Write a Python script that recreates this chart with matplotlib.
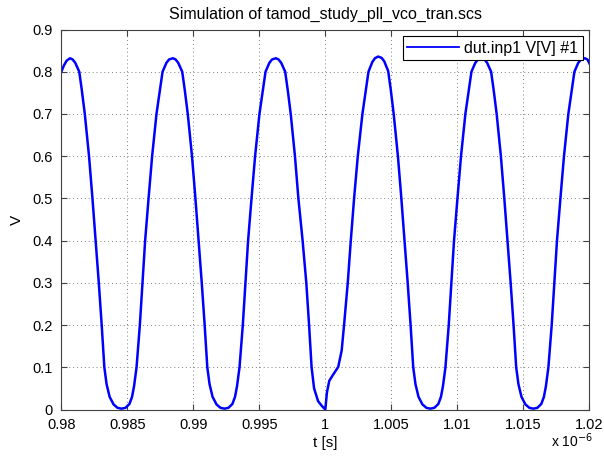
import matplotlib
matplotlib.use("Agg")
import matplotlib.pyplot as plt
import numpy as np

plt.rcParams['font.family'] = ['Liberation Sans', 'DejaVu Sans']

# === Datos (t en microsegundos) ===
t_us = [
    0.98000, 0.98020, 0.98040, 0.98066,
    # periodo 1
    0.98086, 0.98106, 0.98136, 0.98156, 0.98178, 0.98210, 0.98236, 0.98260,
    0.98284, 0.98306, 0.98326, 0.98343, 0.98366, 0.98396, 0.98426, 0.98456,
    0.98486, 0.98516, 0.98536, 0.98551, 0.98570, 0.98595, 0.98615, 0.98635,
    0.98661, 0.98688, 0.98721, 0.98767, 0.98796, 0.98816, 0.98846,
    # periodo 2
    0.98866, 0.98886, 0.98916, 0.98936, 0.98958, 0.98990, 0.99016, 0.99040,
    0.99064, 0.99086, 0.99106, 0.99123, 0.99146, 0.99176, 0.99206, 0.99236,
    0.99266, 0.99296, 0.99316, 0.99331, 0.99350, 0.99375, 0.99395, 0.99415,
    0.99441, 0.99468, 0.99501, 0.99547, 0.99576, 0.99596, 0.99626,
    # periodo 3 (glitch en t = 1)
    0.99646, 0.99666, 0.99696, 0.99716, 0.99738, 0.99770, 0.99796, 0.99828,
    0.99856, 0.99877, 0.99896, 0.99915, 0.99945, 0.99975, 1.00000,
    1.00012, 1.00030, 1.00060, 1.00098, 1.00124, 1.00142, 1.00170, 1.00193,
    1.00218, 1.00246, 1.00281, 1.00327, 1.00356, 1.00376, 1.00400,
    # periodo 4
    1.00426, 1.00446, 1.00476, 1.00496, 1.00518, 1.00550, 1.00576, 1.00600,
    1.00624, 1.00646, 1.00666, 1.00683, 1.00706, 1.00736, 1.00766, 1.00796,
    1.00826, 1.00856, 1.00876, 1.00891, 1.00910, 1.00935, 1.00955, 1.00975,
    1.01001, 1.01028, 1.01061, 1.01107, 1.01136, 1.01156, 1.01186,
    # periodo 5
    1.01206, 1.01226, 1.01256, 1.01276, 1.01298, 1.01330, 1.01356, 1.01380,
    1.01404, 1.01426, 1.01446, 1.01463, 1.01486, 1.01516, 1.01546, 1.01576,
    1.01606, 1.01636, 1.01656, 1.01671, 1.01690, 1.01715, 1.01735, 1.01755,
    1.01781, 1.01808, 1.01841, 1.01887, 1.01916, 1.01936, 1.01966,
    1.01986, 1.02000,
]
v = [
    0.800, 0.815, 0.826, 0.832,
    0.829, 0.821, 0.800, 0.755, 0.700, 0.600, 0.500, 0.400,
    0.300, 0.200, 0.100, 0.060, 0.030, 0.012, 0.004, 0.002,
    0.004, 0.013, 0.030, 0.055, 0.100, 0.200, 0.300, 0.400,
    0.500, 0.600, 0.700, 0.800, 0.821, 0.829, 0.832,
    0.829, 0.821, 0.800, 0.755, 0.700, 0.600, 0.500, 0.400,
    0.300, 0.200, 0.100, 0.060, 0.030, 0.012, 0.004, 0.002,
    0.004, 0.013, 0.030, 0.055, 0.100, 0.200, 0.300, 0.400,
    0.500, 0.600, 0.700, 0.800, 0.821, 0.829, 0.832,
    0.829, 0.821, 0.800, 0.755, 0.700, 0.600, 0.500, 0.400,
    0.300, 0.200, 0.100, 0.050, 0.020, 0.008, 0.000,
    0.040, 0.068, 0.083, 0.101, 0.140, 0.200, 0.300, 0.400,
    0.500, 0.600, 0.700, 0.800, 0.823, 0.832, 0.836,
    0.833, 0.825, 0.802, 0.757, 0.700, 0.600, 0.500, 0.400,
    0.300, 0.200, 0.100, 0.060, 0.030, 0.012, 0.004, 0.002,
    0.004, 0.013, 0.030, 0.055, 0.100, 0.200, 0.300, 0.400,
    0.500, 0.600, 0.700, 0.800, 0.821, 0.829, 0.832,
    0.829, 0.821, 0.800, 0.755, 0.700, 0.600, 0.500, 0.400,
    0.300, 0.200, 0.100, 0.060, 0.030, 0.012, 0.004, 0.002,
    0.004, 0.013, 0.030, 0.055, 0.100, 0.200, 0.300, 0.400,
    0.500, 0.600, 0.700, 0.800, 0.821, 0.829, 0.832,
    0.829, 0.820,
]

xticks = [0.98, 0.985, 0.99, 0.995, 1.0, 1.005, 1.01, 1.015, 1.02]
xtick_labels = ['0.98', '0.985', '0.99', '0.995', '1', '1.005', '1.01', '1.015', '1.02']
yticks = [0, 0.1, 0.2, 0.3, 0.4, 0.5, 0.6, 0.7, 0.8, 0.9]
ytick_labels = ['0', '0.1', '0.2', '0.3', '0.4', '0.5', '0.6', '0.7', '0.8', '0.9']

# === Grafica ===
fig = plt.figure(figsize=(6.04, 4.57), dpi=100)
ax = fig.add_axes([0.1015, 0.1039, 0.8742, 0.8315])

ax.plot(t_us, v, color='#0000ff', linewidth=1.8, label='dut.inp1 V[V] #1')

ax.set_xlim(0.98, 1.02)
ax.set_ylim(0, 0.9)
ax.set_xticks(xticks)
ax.set_xticklabels(xtick_labels)
ax.set_yticks(yticks)
ax.set_yticklabels(ytick_labels)
ax.tick_params(direction='in', top=True, right=True, labelsize=10.5, length=4,
               color='#404040', pad=6)
for s in ax.spines.values():
    s.set_color('#404040')
    s.set_linewidth(0.8)
ax.grid(True, linestyle=(0, (1, 3)), color='#7f7f7f', linewidth=0.7)

ax.set_title('Simulation of tamod_study_pll_vco_tran.scs', fontsize=11.5, pad=8)
ax.set_xlabel('t [s]', fontsize=11, labelpad=3)
ax.set_ylabel('V', fontsize=11, labelpad=6)
fig.text(0.912, 0.021, r'x 10$^{-6}$', fontsize=10, ha='left', va='baseline')

leg = ax.legend(loc='upper right', fontsize=11.5, fancybox=False, framealpha=1,
                edgecolor='black', borderaxespad=0.4, handlelength=3.2,
                handletextpad=0.35, borderpad=0.3)
leg.get_frame().set_linewidth(0.8)
leg.get_lines()[0].set_linewidth(1.3)

fig.savefig('out.png', dpi=100)
